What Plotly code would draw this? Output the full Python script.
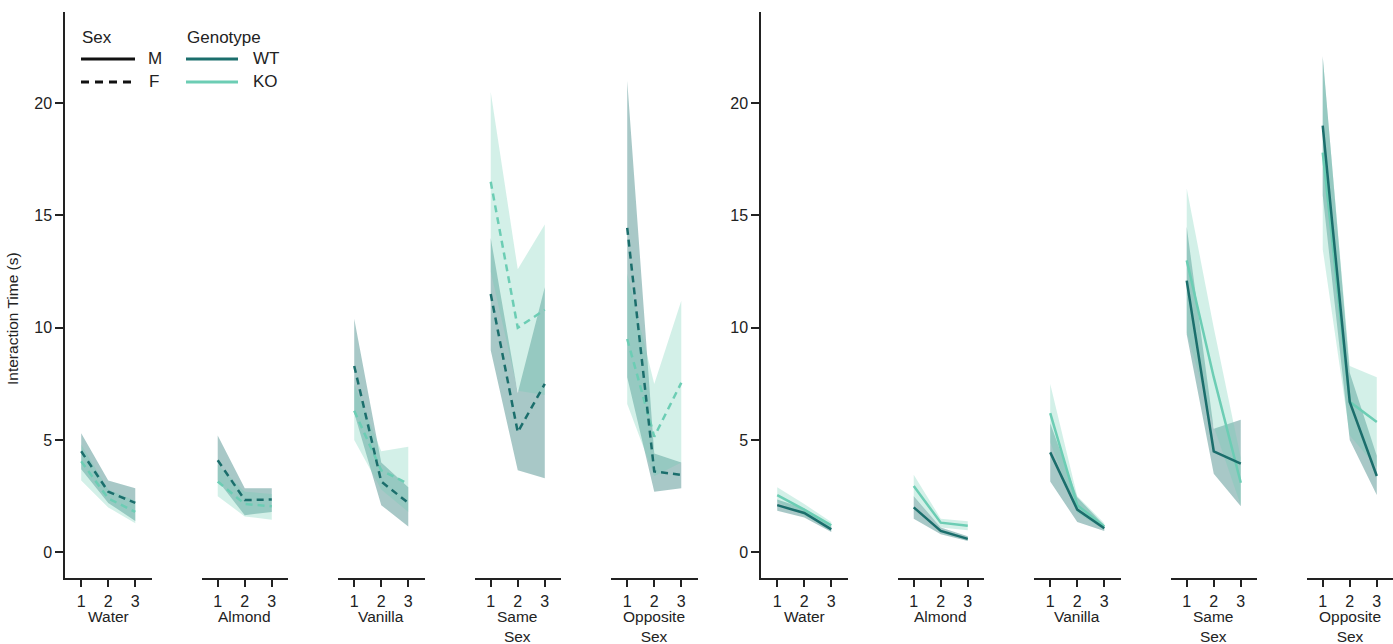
import plotly.graph_objects as go

W, H = 1393, 644

categories = ["Water", "Almond", "Vanilla", "Same<br>Sex", "Opposite<br>Sex"]
sessions = [1, 2, 3]
y_ticks = [0, 5, 10, 15, 20]

# Females (left panel, dashed lines)
f_wt_mean = [[4.5, 2.7, 2.2], [4.1, 2.33, 2.35], [8.3, 3.15, 2.2], [11.5, 5.35, 7.5], [14.45, 3.6, 3.45]]
f_wt_lo = [[3.7, 2.2, 1.4], [3.2, 1.65, 1.8], [6.2, 2.1, 1.15], [9.0, 3.65, 3.3], [7.8, 2.7, 2.85]]
f_wt_hi = [[5.3, 3.2, 2.85], [5.2, 2.85, 2.85], [10.4, 4.0, 2.9], [14.0, 7.1, 11.8], [21.0, 4.4, 4.0]]
f_ko_mean = [[4.05, 2.4, 1.8], [3.15, 2.15, 2.05], [6.3, 3.65, 3.05], [16.5, 10.0, 10.8], [9.5, 5.15, 7.55]]
f_ko_lo = [[3.2, 2.0, 1.3], [2.5, 1.6, 1.45], [5.0, 2.8, 1.8], [12.5, 7.2, 7.0], [6.6, 3.4, 4.0]]
f_ko_hi = [[4.8, 2.8, 2.3], [3.9, 2.7, 2.6], [7.5, 4.5, 4.7], [20.5, 12.6, 14.6], [12.4, 7.5, 11.2]]

# Males (right panel, solid lines)
m_wt_mean = [[2.1, 1.75, 1.02], [2.0, 0.95, 0.6], [4.45, 1.9, 1.07], [12.1, 4.5, 3.95], [19.0, 6.7, 3.4]]
m_wt_lo = [[1.85, 1.55, 0.9], [1.5, 0.8, 0.5], [3.15, 1.35, 0.95], [9.7, 3.5, 2.05], [15.9, 5.0, 2.55]]
m_wt_hi = [[2.35, 1.95, 1.15], [2.5, 1.1, 0.72], [5.75, 2.45, 1.2], [14.5, 5.5, 5.9], [22.1, 8.0, 4.3]]
m_ko_mean = [[2.55, 1.9, 1.2], [2.95, 1.32, 1.18], [6.2, 2.1, 1.15], [13.0, 7.8, 3.1], [17.8, 6.7, 5.8]]
m_ko_lo = [[2.25, 1.65, 1.05], [2.45, 1.1, 0.98], [4.9, 1.75, 1.0], [9.8, 5.6, 2.1], [13.5, 5.2, 3.8]]
m_ko_hi = [[2.9, 2.15, 1.35], [3.45, 1.5, 1.38], [7.5, 2.5, 1.3], [16.2, 10.0, 4.2], [22.0, 8.3, 7.8]]

WT_LINE = "#1b6e6c"
KO_LINE = "#6ccdb4"
WT_FILL = "rgba(27,110,108,0.38)"
KO_FILL = "rgba(108,205,180,0.30)"
AX = "#222222"
FONT = "Liberation Sans, Arial, Helvetica, sans-serif"

left_px = [65, 201.5, 338, 474.5, 611]
right_px = [761, 897.5, 1034, 1170.5, 1306.5]
gw = 86.5
y_top_px, y_bot_px = 12, 577.7
ydom = [1 - y_bot_px / H, 1 - y_top_px / H]
yrange = [-1.13, 24.06]

fig = go.Figure()
layout = {}

panels = [
    ("F", "dash", left_px, (f_wt_mean, f_wt_lo, f_wt_hi), (f_ko_mean, f_ko_lo, f_ko_hi)),
    ("M", "solid", right_px, (m_wt_mean, m_wt_lo, m_wt_hi), (m_ko_mean, m_ko_lo, m_ko_hi)),
]

idx = 0
for sex, dash, pxs, wt, ko in panels:
    for g, cat in enumerate(categories):
        idx += 1
        xa = "x" if idx == 1 else f"x{idx}"
        ya = "y" if idx == 1 else f"y{idx}"
        xkey = "xaxis" if idx == 1 else f"xaxis{idx}"
        ykey = "yaxis" if idx == 1 else f"yaxis{idx}"
        x0 = pxs[g] / W
        x1 = min((pxs[g] + gw) / W, 1.0)
        layout[xkey] = dict(
            domain=[x0, x1], range=[0.4, 3.6], anchor=ya,
            showline=True, linecolor=AX, linewidth=1.5,
            ticks="outside", ticklen=8, tickwidth=1.5, tickcolor=AX,
            tickvals=sessions, ticktext=[str(s) for s in sessions],
            tickfont=dict(size=16, color=AX, family=FONT),
            showgrid=False, zeroline=False, fixedrange=True,
        )
        first = g == 0
        layout[ykey] = dict(
            domain=ydom, range=yrange, anchor=xa,
            showline=first, linecolor=AX, linewidth=1.5,
            ticks="outside" if first else "", ticklen=8, tickwidth=1.5, tickcolor=AX,
            tickvals=y_ticks, showticklabels=first,
            tickfont=dict(size=16, color=AX, family=FONT),
            showgrid=False, zeroline=False, fixedrange=True,
        )
        for (mean, lo, hi), fillc in ((wt, WT_FILL), (ko, KO_FILL)):
            fig.add_trace(go.Scatter(
                x=sessions + sessions[::-1], y=hi[g] + lo[g][::-1],
                fill="toself", fillcolor=fillc, line=dict(width=0),
                mode="lines", hoverinfo="skip", showlegend=False,
                xaxis=xa, yaxis=ya,
            ))
        for (mean, lo, hi), lc in ((ko, KO_LINE), (wt, WT_LINE)):
            fig.add_trace(go.Scatter(
                x=sessions, y=mean[g], mode="lines",
                line=dict(color=lc, width=2.5, dash="7px,5px" if dash == "dash" else "solid"),
                showlegend=False, xaxis=xa, yaxis=ya,
            ))
        # category label under the axis
        fig.add_annotation(
            x=(pxs[g] + gw * 0.5) / W, y=1 - 606 / H, xref="paper", yref="paper",
            text=cat, showarrow=False, xanchor="center", yanchor="top",
            font=dict(size=15.5, color=AX, family=FONT),
        )

# y-axis title
fig.add_annotation(
    x=12 / W, y=1 - 319 / H, xref="paper", yref="paper", text="Interaction Time (s)",
    textangle=-90, showarrow=False, xanchor="center", yanchor="middle",
    font=dict(size=15.5, color=AX, family=FONT),
)

# legend (manual)
def px_x(v):
    return v / W

def px_y(v):
    return 1 - v / H

leg_font = dict(size=17, color=AX, family=FONT)
for txt, x, y in [("Sex", 80, 38), ("Genotype", 185, 38),
                  ("M", 146, 59), ("F", 147, 82),
                  ("WT", 251, 59), ("KO", 251, 82)]:
    fig.add_annotation(x=px_x(x), y=px_y(y), xref="paper", yref="paper", text=txt,
                       showarrow=False, xanchor="left", yanchor="middle", font=leg_font)
shapes = []
for (x0, x1, y, col, dsh) in [(81, 135, 59, "#111111", "solid"), (81, 135, 82, "#111111", "dash"),
                              (186, 238, 59, WT_LINE, "solid"), (186, 238, 82, KO_LINE, "solid")]:
    shapes.append(dict(type="line", xref="paper", yref="paper",
                       x0=px_x(x0), x1=px_x(x1), y0=px_y(y), y1=px_y(y),
                       line=dict(color=col, width=3, dash="8px,6px" if dsh == "dash" else "solid")))

fig.update_layout(
    width=W, height=H, margin=dict(l=0, r=0, t=0, b=0),
    paper_bgcolor="white", plot_bgcolor="white",
    showlegend=False, shapes=shapes,
    font=dict(family=FONT, color=AX),
    **layout,
)

fig.write_html(
    "out.html",
    config={"displayModeBar": False},
    post_script="document.body.style.margin='0';document.body.style.overflow='hidden';",
)
